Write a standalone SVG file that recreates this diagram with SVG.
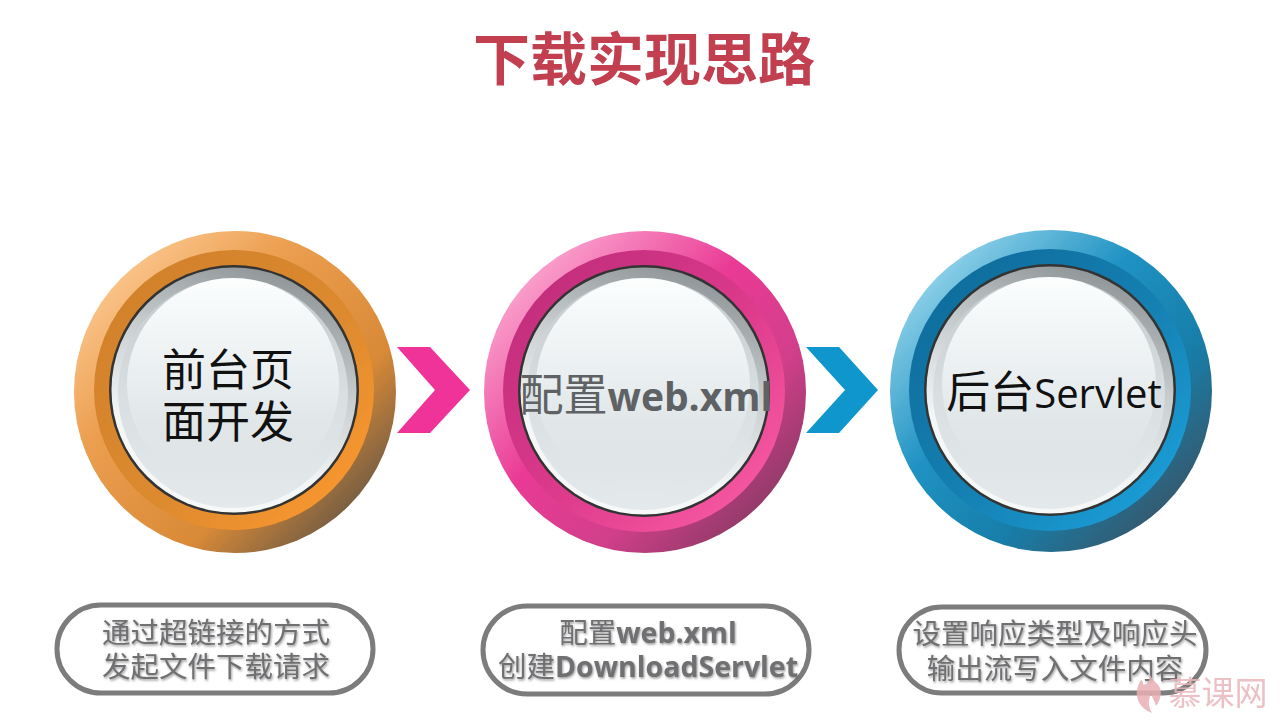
<svg xmlns="http://www.w3.org/2000/svg" width="1280" height="720" viewBox="0 0 1280 720">
<style>
text{font-family:"Noto Sans CJK SC","Liberation Sans",sans-serif;text-anchor:middle}
.title{font-size:57px;font-weight:700;fill:#c13f4f}
.big{font-size:44px;fill:#111}
.cap{font-size:28.500px;fill:#6f7072;filter:url(#ts)}
.pill{fill:#fff;stroke:#7c7c7c;stroke-width:5}
.ring{fill:#333}
.lat{font-family:"Open Sans","Liberation Sans","Noto Sans CJK SC",sans-serif}
.rim{fill:url(#gb)}
.disc{fill:url(#gd)}
.glare{fill:url(#gf)}
</style>
<defs>
<filter id="ts" x="-10%" y="-20%" width="120%" height="150%"><feDropShadow dx="1" dy="1.500" stdDeviation="0.800" flood-color="#555" flood-opacity="0.600"/></filter>
<linearGradient id="oo" x1="0.12" y1="0.12" x2="0.88" y2="0.88"><stop offset="0" stop-color="#fbc68e"/><stop offset="0.3" stop-color="#ec9f50"/><stop offset="0.72" stop-color="#d98a37"/><stop offset="1" stop-color="#6e5a44"/></linearGradient>
<linearGradient id="om" x1="0.15" y1="0.15" x2="0.85" y2="0.85"><stop offset="0" stop-color="#d3822c"/><stop offset="0.6" stop-color="#dd8a2f"/><stop offset="1" stop-color="#f5952f"/></linearGradient>
<linearGradient id="po" x1="0.12" y1="0.12" x2="0.88" y2="0.88"><stop offset="0" stop-color="#fba6cf"/><stop offset="0.42" stop-color="#ea3a95"/><stop offset="0.72" stop-color="#d23f8b"/><stop offset="1" stop-color="#8c3a66"/></linearGradient>
<linearGradient id="pm" x1="0.15" y1="0.15" x2="0.85" y2="0.85"><stop offset="0" stop-color="#c42f7d"/><stop offset="0.55" stop-color="#dd3a8c"/><stop offset="1" stop-color="#f4559f"/></linearGradient>
<linearGradient id="bo" x1="0.12" y1="0.12" x2="0.88" y2="0.88"><stop offset="0" stop-color="#92d3ea"/><stop offset="0.38" stop-color="#1f92c3"/><stop offset="0.7" stop-color="#177ea9"/><stop offset="1" stop-color="#37576b"/></linearGradient>
<linearGradient id="bm" x1="0.15" y1="0.15" x2="0.85" y2="0.85"><stop offset="0" stop-color="#0f6f9f"/><stop offset="0.55" stop-color="#1580b2"/><stop offset="1" stop-color="#1a9ad3"/></linearGradient>
<linearGradient id="gb" x1="0.7" y1="0" x2="0.35" y2="1"><stop offset="0" stop-color="#8d9294"/><stop offset="0.4" stop-color="#c9ced0"/><stop offset="0.75" stop-color="#f3f6f6"/><stop offset="1" stop-color="#f7f9f9"/></linearGradient>
<linearGradient id="gd" x1="0.5" y1="0" x2="0.5" y2="1"><stop offset="0" stop-color="#c3c9cb"/><stop offset="0.5" stop-color="#d9dfe1"/><stop offset="1" stop-color="#e4e9eb"/></linearGradient>
<linearGradient id="gf" x1="0.5" y1="0" x2="0.5" y2="1"><stop offset="0" stop-color="#fcfefe"/><stop offset="0.55" stop-color="#e6ebed"/><stop offset="1" stop-color="#dee4e6" stop-opacity="0"/></linearGradient>
</defs>
<rect width="1280" height="720" fill="#fff"/>
<text class="title" x="644" y="80">下载实现思路</text>

<g id="node-1">
<circle cx="235" cy="392" r="161" fill="url(#oo)"/>
<circle cx="234" cy="390" r="140" fill="url(#om)"/>
<circle class="ring" cx="234" cy="390" r="125"/>
<circle class="rim" cx="234" cy="390" r="122.500"/>
<circle class="disc" cx="233" cy="393" r="115"/>
<circle class="glare" cx="233" cy="384" r="106"/>
<text class="big" x="228"><tspan x="228" y="386">前台页</tspan><tspan x="228" y="438">面开发</tspan></text>
</g>
<g id="node-2">
<circle cx="645" cy="392" r="161" fill="url(#po)"/>
<circle cx="644" cy="391" r="141" fill="url(#pm)"/>
<circle class="ring" cx="644" cy="391" r="126"/>
<circle class="rim" cx="644" cy="391" r="123.500"/>
<circle class="disc" cx="643" cy="394" r="116"/>
<circle class="glare" cx="643" cy="385" r="107"/>
<text class="big" x="646" y="411" style="fill:#5f6264"><tspan>配置</tspan><tspan class="lat" font-weight="700" font-size="39">web.xml</tspan></text>
</g>
<g id="node-3">
<circle cx="1051" cy="391" r="161" fill="url(#bo)"/>
<circle cx="1050" cy="390" r="141" fill="url(#bm)"/>
<circle class="ring" cx="1050" cy="390" r="126"/>
<circle class="rim" cx="1050" cy="390" r="123.500"/>
<circle class="disc" cx="1049" cy="393" r="116"/>
<circle class="glare" cx="1049" cy="384" r="107"/>
<text class="big" x="1054" y="408"><tspan>后台</tspan><tspan class="lat" font-size="40">Servlet</tspan></text>
</g>

<g id="connectors">
<polygon points="397,347 430,347 470,390 430,433 397,433 435,390" fill="#ef3399"/>
<polygon points="806,347 839,347 878,390 839,433 806,433 845,390" fill="#0f96cc"/>
</g>

<g id="cap-1">
<rect class="pill" x="57" y="605" width="316" height="88" rx="44"/>
<text class="cap" x="216"><tspan x="216" y="643">通过超链接的方式</tspan><tspan x="216" y="677">发起文件下载请求</tspan></text>
</g>
<g id="cap-2">
<rect class="pill" x="483" y="606" width="326" height="88" rx="44"/>
<text class="cap" x="648"><tspan x="648" y="643">配置<tspan class="lat" font-weight="700">web.xml</tspan></tspan><tspan x="648" y="677">创建<tspan class="lat" font-weight="700">DownloadServlet</tspan></tspan></text>
</g>
<g id="cap-3">
<rect class="pill" x="899" y="607" width="307" height="86" rx="43"/>
<text class="cap" x="1055"><tspan x="1055" y="644">设置响应类型及响应头</tspan><tspan x="1055" y="679">输出流写入文件内容</tspan></text>
</g>
<g id="watermark" opacity="0.85">
<path d="M1150,675 C1150,682 1146,686 1143,684 C1143,681 1142,680 1141,680 C1138,685 1136,690 1137,696 C1138,704 1144,710 1152,713 C1148,706 1148,700 1151,694 C1153,699 1155,702 1156,706 C1160,701 1162,694 1160,688 C1158,683 1153,681 1150,675Z" fill="#e9b0b4"/>
<text x="1218" y="705" font-size="33" fill="#e9b6ba">慕课网</text>
</g>
</svg>
